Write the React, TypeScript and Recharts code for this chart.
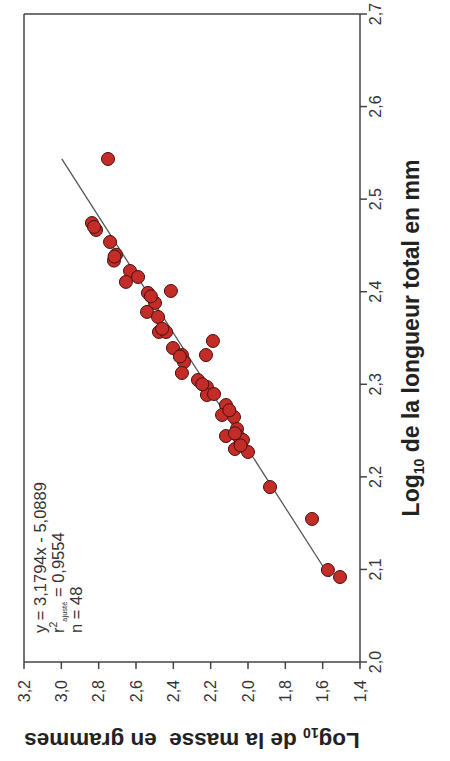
import { ScatterChart, Scatter, XAxis, YAxis, ReferenceLine } from "recharts";

// log10 of total length (mm)
const lengths = [
  2.5434, 2.4742, 2.4667, 2.4537, 2.44, 2.4336, 2.4224, 2.4159, 2.4106, 2.4008,
  2.3987, 2.3879, 2.3782, 2.3727, 2.3565, 2.3565, 2.3468, 2.3392, 2.3316, 2.3316,
  2.3241, 2.3122, 2.3046, 2.2971, 2.2884, 2.2895, 2.2776, 2.2668, 2.2647, 2.2517,
  2.2441, 2.2441, 2.2398, 2.2301, 2.2269, 2.189, 2.1545, 2.0994, 2.0918, 2.47,
  2.438, 2.395, 2.36, 2.33, 2.3, 2.272, 2.247, 2.234,
];

// log10 of mass (g)
const masses = [
  2.75, 2.836, 2.814, 2.739, 2.707, 2.718, 2.632, 2.589, 2.654, 2.413,
  2.536, 2.498, 2.541, 2.482, 2.477, 2.439, 2.188, 2.402, 2.354, 2.225,
  2.343, 2.354, 2.268, 2.22, 2.22, 2.182, 2.118, 2.139, 2.075, 2.059,
  2.118, 2.054, 2.027, 2.07, 2.0, 1.882, 1.657, 1.572, 1.507, 2.825,
  2.715, 2.52, 2.46, 2.365, 2.245, 2.1, 2.07, 2.04,
];

const lengthTicks = [2.0, 2.1, 2.2, 2.3, 2.4, 2.5, 2.6, 2.7];
const massTicks = [1.4, 1.6, 1.8, 2.0, 2.2, 2.4, 2.6, 2.8, 3.0, 3.2];

const slope = 3.1794;
const intercept = -5.0889;

const points = lengths.map((x, i) => ({ x, y: masses[i] }));
const xMin = Math.min(...lengths);
const xMax = Math.max(...lengths);
const fit = [xMin, xMax].map((x) => ({ x, y: slope * x + intercept }));

const W = 761;
const H = 450;
const FONT = "'Liberation Sans', Arial, sans-serif";

const comma = (v: number) => v.toFixed(1).replace(".", ",");

const Dot = (props: any) => (
  <circle cx={props.cx} cy={props.cy} r={6.5} fill="#c42c28" stroke="#451010" strokeWidth={1} />
);
const NoDot = () => <g />;

const XTitle = (props: any) => {
  const vb = props.viewBox || {};
  return (
    <text
      x={vb.x + vb.width / 2}
      y={vb.y + 59}
      textAnchor="middle"
      fontFamily={FONT}
      fontWeight="bold"
      fontSize={23}
      fill="#222"
    >
      Log
      <tspan fontSize={14} dy={5}>10</tspan>
      <tspan dy={-5}> de la longueur total en mm</tspan>
    </text>
  );
};

const YTitle = (props: any) => {
  const vb = props.viewBox || {};
  const cx = vb.x + 28;
  const cy = vb.y + vb.height / 2;
  return (
    <text
      x={cx}
      y={cy}
      transform={`rotate(-90 ${cx} ${cy})`}
      textAnchor="middle"
      fontFamily={FONT}
      fontWeight="bold"
      fontSize={22.5}
      fill="#222"
    >
      Log
      <tspan fontSize={14} dy={5}>10</tspan>
      <tspan dy={-5}>{" de la masse\u00a0 en grammes"}</tspan>
    </text>
  );
};

export default function App() {
  return (
    <div style={{ position: "absolute", top: 0, left: 0, width: 450, height: 761, overflow: "hidden", background: "#fff" }}>
      <div
        style={{
          position: "absolute",
          top: 0,
          left: 0,
          width: W,
          height: H,
          transformOrigin: "0 0",
          transform: `translateY(${W}px) rotate(-90deg)`,
        }}
      >
        <ScatterChart width={W} height={H} margin={{ top: 24, right: 14, left: 0, bottom: 0 }}>
          <XAxis
            type="number"
            dataKey="x"
            domain={[2.0, 2.7]}
            ticks={lengthTicks}
            tickFormatter={comma}
            height={90}
            tickSize={7}
            tickMargin={3}
            stroke="#444"
            strokeWidth={1.5}
            tick={{ fill: "#333", fontSize: 16, fontFamily: FONT }}
            label={<XTitle />}
          />
          <YAxis
            type="number"
            dataKey="y"
            domain={[1.4, 3.2]}
            ticks={massTicks}
            tickFormatter={comma}
            width={99}
            tickSize={7}
            tickMargin={11}
            stroke="#444"
            strokeWidth={1.5}
            tick={{ fill: "#333", fontSize: 16, fontFamily: FONT }}
            label={<YTitle />}
          />
          <ReferenceLine x={2.7} stroke="#444" strokeWidth={1.5} />
          <ReferenceLine y={3.2} stroke="#444" strokeWidth={1.5} />
          <Scatter
            data={fit}
            line={{ stroke: "#555", strokeWidth: 1.3 }}
            shape={NoDot}
            isAnimationActive={false}
          />
          <Scatter data={points} shape={Dot} isAnimationActive={false} />
        </ScatterChart>
        {/* regression summary, top-left of the plot */}
        <svg
          width={W}
          height={H}
          style={{ position: "absolute", top: 0, left: 0, pointerEvents: "none" }}
          fontFamily={FONT}
          fontSize={16.5}
          fill="#333"
        >
          <text x={128} y={46}>y = 3,1794x - 5,0889</text>
          <text x={128} y={63.5}>
            r<tspan fontSize={10.5} dy={-7}>2</tspan>
            <tspan fontSize={7.5} dy={10}>ajusté</tspan>
            <tspan dy={-3}> = 0,9554</tspan>
          </text>
          <text x={128} y={81.5}>n = 48</text>
        </svg>
      </div>
    </div>
  );
}
